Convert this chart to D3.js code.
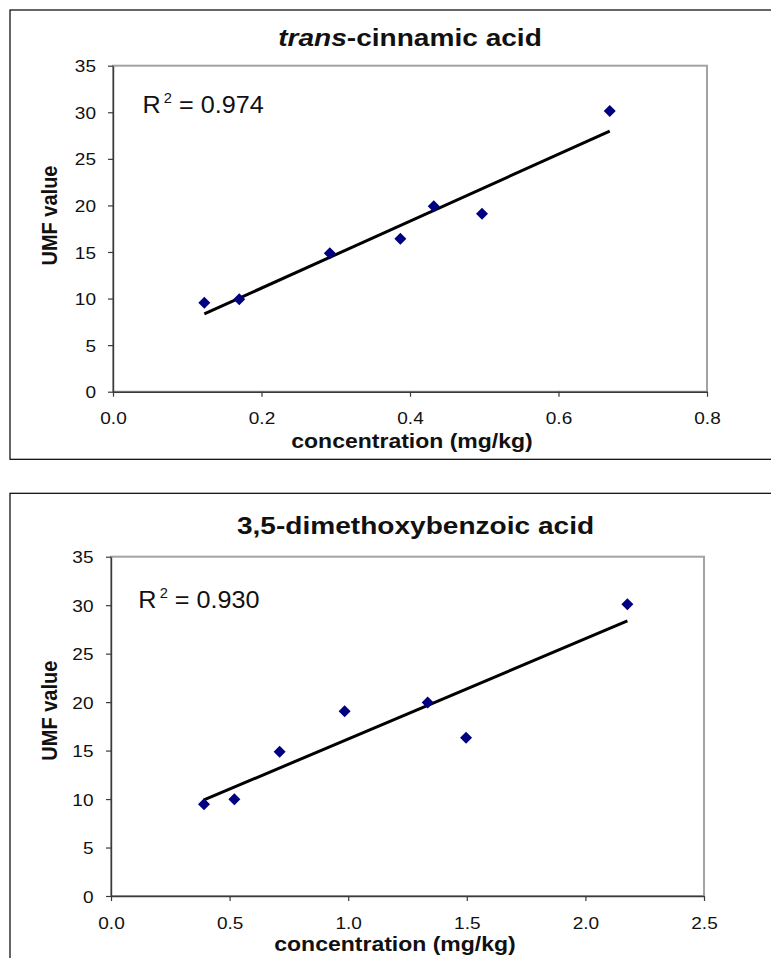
<!DOCTYPE html>
<html><head><meta charset="utf-8">
<script src="https://cdn.jsdelivr.net/npm/d3@7"></script>
<style>
html,body{margin:0;padding:0;background:#fff;}
svg{display:block;}
text{font-family:Arial,"Liberation Sans",Helvetica,sans-serif;fill:#111;}
</style></head><body>
<svg id="c" width="771" height="958"></svg>
<script>
// ---- data ----
const cinnamicConc = [0.123, 0.170, 0.292, 0.387, 0.432, 0.497, 0.669];
const cinnamicUMF  = [9.56, 9.92, 14.86, 16.43, 19.9, 19.1, 30.14];
const dmbConc = [0.392, 0.520, 0.711, 0.985, 1.335, 1.497, 2.177];
const dmbUMF  = [9.46, 9.97, 14.87, 19.06, 19.96, 16.33, 30.1];
const cinnamicXTicks = [0, 0.2, 0.4, 0.6, 0.8];
const dmbXTicks = [0, 0.5, 1.0, 1.5, 2.0, 2.5];
const umfTicks = [0, 5, 10, 15, 20, 25, 30, 35];
const r2Values = ["0.974", "0.930"];
const xAxisTitle = "concentration (mg/kg)";
const yAxisTitle = "UMF value";

const svg = d3.select("#c");
const SX = 1.12; // horizontal stretch of the reference's lettering

function regression(xs, ys) {
  const n = xs.length, mx = d3.mean(xs), my = d3.mean(ys);
  let sxy = 0, sxx = 0;
  for (let i = 0; i < n; i++) { sxy += (xs[i]-mx)*(ys[i]-my); sxx += (xs[i]-mx)**2; }
  const b = sxy/sxx; return {b, a: my - b*mx};
}

function stretched(parent, x, y, sx, rot) {
  return parent.append("g").attr("transform", `translate(${x},${y})` + (rot ? ` rotate(${rot})` : "") + ` scale(${sx},1)`);
}

function drawChart(cfg) {
  const g = svg.append("g");
  // outer frame (runs off the right side of the page)
  g.append("rect").attr("x", cfg.frame.x).attr("y", cfg.frame.y)
    .attr("width", cfg.frame.w).attr("height", cfg.frame.h)
    .attr("fill", "none").attr("stroke", "#000").attr("stroke-width", 1.2);

  const x = d3.scaleLinear().domain([0, cfg.xMax]).range([cfg.plot.x0, cfg.plot.x1]);
  const y = d3.scaleLinear().domain([0, 35]).range([cfg.plot.y1, cfg.plot.y0]);

  // plot area border (gray top/right)
  g.append("rect").attr("x", cfg.plot.x0).attr("y", cfg.plot.y0)
    .attr("width", cfg.plot.x1 - cfg.plot.x0).attr("height", cfg.plot.y1 - cfg.plot.y0)
    .attr("fill", "none").attr("stroke", "#a3a3a3").attr("stroke-width", 2);

  // axes
  const xa = g.append("g").attr("transform", `translate(0,${cfg.plot.y1})`)
    .call(d3.axisBottom(x).tickValues(cfg.xTicks).tickSize(5).tickSizeOuter(0).tickFormat(d3.format(".1f")));
  const ya = g.append("g").attr("transform", `translate(${cfg.plot.x0},0)`)
    .call(d3.axisLeft(y).tickValues(umfTicks).tickSize(5).tickSizeOuter(0).tickFormat(d3.format("d")));
  [xa, ya].forEach(a => {
    a.select(".domain").attr("stroke", "#3a3a3a").attr("stroke-width", 1.4);
    a.selectAll(".tick line").attr("stroke", "#3a3a3a").attr("stroke-width", 1.2);
    a.selectAll(".tick text").attr("font-size", 17).attr("font-family", "Arial, 'Liberation Sans', sans-serif").attr("fill", "#111");
  });
  xa.selectAll(".tick text").attr("y", cfg.xLabelDy).attr("dy", 0).attr("transform", `scale(${SX},1)`);
  ya.selectAll(".tick text").attr("x", -cfg.yLabelGap / SX).attr("dy", "0.36em").attr("transform", `scale(${SX},1)`);

  // title
  const tg = stretched(g, cfg.title.x, cfg.title.y, 1.17);
  const tt = tg.append("text").attr("text-anchor", "middle").attr("font-size", 24).attr("font-weight", "bold");
  cfg.title.parts.forEach(p => tt.append("tspan").attr("font-style", p.italic ? "italic" : "normal").text(p.text));

  // axis titles
  stretched(g, cfg.xTitle.x, cfg.xTitle.y, 1.15).append("text").attr("text-anchor", "middle")
    .attr("font-size", 20).attr("font-weight", "bold").text(xAxisTitle);
  stretched(g, cfg.yTitle.x, cfg.yTitle.y, 1.0, -90).append("text").attr("text-anchor", "middle")
    .attr("font-size", 20).attr("font-weight", "bold").attr("transform", "scale(1,1.12)").text(yAxisTitle);

  // R^2 label
  const rg = stretched(g, cfg.r2.x, cfg.r2.y, 1.05);
  const rt = rg.append("text").attr("font-size", 24);
  rt.append("tspan").text("R");
  rt.append("tspan").attr("dx", 3).attr("dy", -9.5).attr("font-size", 14).text("2");
  rt.append("tspan").attr("dy", 9.5).text(" = " + cfg.r2Text);

  // trend line
  const {a, b} = regression(cfg.xs, cfg.ys);
  const x0 = d3.min(cfg.xs), x1 = d3.max(cfg.xs);
  g.append("line").attr("x1", x(x0)).attr("y1", y(a + b*x0)).attr("x2", x(x1)).attr("y2", y(a + b*x1))
    .attr("stroke", "#000").attr("stroke-width", 3);

  // points
  const sym = d3.symbol(d3.symbolSquare, 72);
  g.selectAll("path.pt").data(cfg.xs.map((v, i) => [v, cfg.ys[i]])).join("path").attr("class", "pt")
    .attr("d", sym).attr("fill", "#000080")
    .attr("transform", d => `translate(${x(d[0])},${y(d[1])}) rotate(45)`);
}

drawChart({
  frame: {x: 10, y: 10, w: 820, h: 449.3},
  plot: {x0: 113, x1: 707, y0: 65.7, y1: 391.7},
  xMax: 0.8, xTicks: cinnamicXTicks, xLabelDy: 32.5, yLabelGap: 17,
  xs: cinnamicConc, ys: cinnamicUMF,
  title: {x: 410, y: 46, parts: [{text: "trans", italic: true}, {text: "-cinnamic acid"}]},
  xTitle: {x: 412, y: 448},
  yTitle: {x: 57, y: 215.5},
  r2: {x: 142.5, y: 112.7}, r2Text: r2Values[0]
});

drawChart({
  frame: {x: 10, y: 493.3, w: 820, h: 600},
  plot: {x0: 111, x1: 704, y0: 556.7, y1: 896},
  xMax: 2.5, xTicks: dmbXTicks, xLabelDy: 33.5, yLabelGap: 17.5,
  xs: dmbConc, ys: dmbUMF,
  title: {x: 415.5, y: 534, parts: [{text: "3,5-dimethoxybenzoic acid"}]},
  xTitle: {x: 395, y: 950.5},
  yTitle: {x: 57, y: 710.7},
  r2: {x: 138.3, y: 607.7}, r2Text: r2Values[1]
});
</script>
</body></html>
